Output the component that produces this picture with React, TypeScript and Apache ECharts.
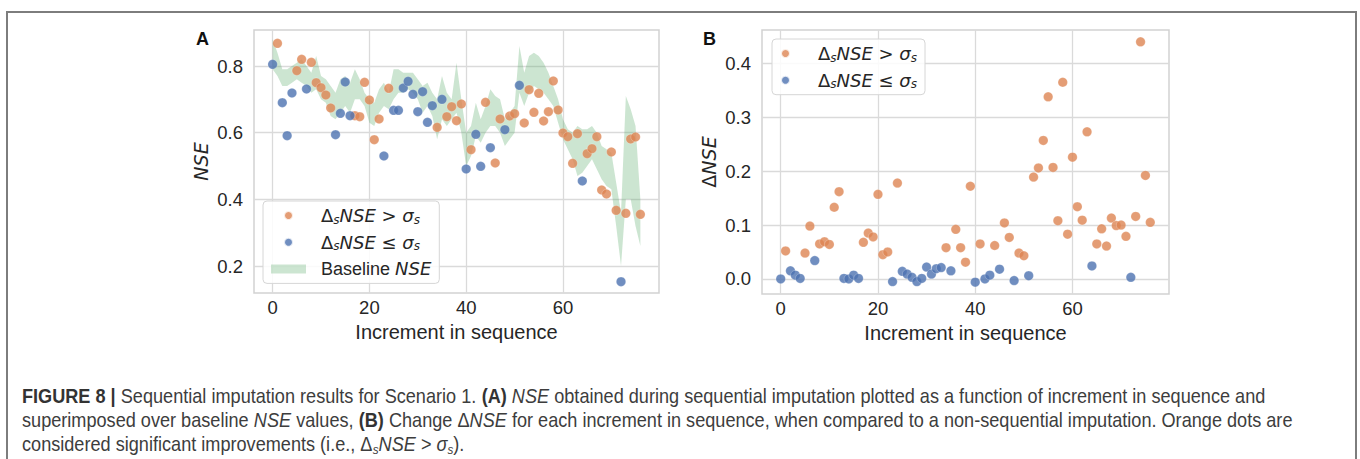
import React, { useEffect, useRef } from "react";
import * as echarts from "echarts";

// ---------- DATA ----------
const increments = [
  0, 1, 2, 3, 4, 5, 6, 7, 8, 9, 10, 11, 12, 13, 14, 15, 16, 17, 18, 19,
  20, 21, 22, 23, 24, 25, 26, 27, 28, 29, 30, 31, 32, 33, 34, 35, 36, 37, 38, 39,
  40, 41, 42, 43, 44, 45, 46, 47, 48, 49, 50, 51, 52, 53, 54, 55, 56, 57, 58, 59,
  60, 61, 62, 63, 64, 65, 66, 67, 68, 69, 70, 71, 72, 73, 74, 75, 76,
];

// increments whose improvement is NOT significant (blue dots)
const notSignificant = [
  0, 2, 3, 4, 7, 13, 14, 15, 16, 23, 25, 26, 27, 28, 29, 30, 31, 32, 33, 35,
  40, 42, 43, 45, 48, 51, 64, 72,
];

// Panel A: NSE obtained during sequential imputation
const nseSequential = [
  0.805, 0.868, 0.690, 0.591, 0.719, 0.786, 0.820, 0.731, 0.811, 0.750,
  0.735, 0.713, 0.674, 0.594, 0.658, 0.752, 0.651, 0.651, 0.648, 0.751,
  0.698, 0.579, 0.641, 0.530, 0.733, 0.667, 0.667, 0.734, 0.754, 0.715,
  0.663, 0.723, 0.631, 0.681, 0.616, 0.700, 0.648, 0.678, 0.636, 0.686,
  0.491, 0.549, 0.595, 0.499, 0.691, 0.555, 0.509, 0.641, 0.609, 0.650,
  0.657, 0.742, 0.629, 0.729, 0.661, 0.718, 0.635, 0.663, 0.755, 0.668,
  0.599, 0.588, 0.508, 0.597, 0.455, 0.537, 0.552, 0.588, 0.428, 0.416,
  0.542, 0.367, 0.153, 0.358, 0.581, 0.587, 0.355,
];

// Panel A: baseline NSE band (lower / upper)
const baselineLower = [
  0.79, 0.77, 0.74, 0.74, 0.75, 0.76, 0.75, 0.74, 0.72, 0.73,
  0.70, 0.69, 0.65, 0.64, 0.66, 0.68, 0.66, 0.70, 0.70, 0.68,
  0.63, 0.62, 0.66, 0.68, 0.67, 0.70, 0.72, 0.72, 0.73, 0.72,
  0.70, 0.66, 0.68, 0.65, 0.58, 0.64, 0.62, 0.64, 0.66, 0.60,
  0.50, 0.53, 0.59, 0.57, 0.60, 0.62, 0.62, 0.60, 0.56, 0.58,
  0.60, 0.72, 0.68, 0.72, 0.74, 0.73, 0.72, 0.70, 0.68, 0.63,
  0.58, 0.55, 0.52, 0.47, 0.48, 0.50, 0.52, 0.49, 0.46, 0.44,
  0.43, 0.32, 0.20, 0.40, 0.40, 0.32, 0.26,
];
const baselineUpper = [
  0.88, 0.84, 0.79, 0.79, 0.80, 0.81, 0.82, 0.80, 0.78, 0.83,
  0.77, 0.76, 0.74, 0.72, 0.76, 0.77, 0.75, 0.79, 0.76, 0.72,
  0.70, 0.69, 0.73, 0.75, 0.72, 0.79, 0.79, 0.78, 0.78, 0.78,
  0.76, 0.74, 0.75, 0.72, 0.70, 0.77, 0.72, 0.70, 0.81, 0.70,
  0.60, 0.62, 0.69, 0.64, 0.68, 0.73, 0.71, 0.70, 0.64, 0.66,
  0.68, 0.86, 0.78, 0.83, 0.84, 0.83, 0.81, 0.78, 0.74, 0.70,
  0.64, 0.61, 0.60, 0.62, 0.61, 0.61, 0.62, 0.60, 0.56, 0.55,
  0.54, 0.45, 0.36, 0.71, 0.67, 0.62, 0.40,
];

// Panel B: change in NSE vs non-sequential imputation
const deltaNse = [
  0.000, 0.052, 0.015, 0.007, 0.001, 0.048, 0.098, 0.034, 0.065, 0.069,
  0.064, 0.133, 0.162, 0.001, 0.000, 0.007, 0.001, 0.068, 0.085, 0.078,
  0.157, 0.045, 0.050, -0.005, 0.178, 0.014, 0.009, 0.003, -0.005, 0.001,
  0.022, 0.009, 0.019, 0.021, 0.058, 0.015, 0.092, 0.058, 0.031, 0.172,
  -0.006, 0.065, 0.000, 0.007, 0.062, 0.018, 0.104, 0.077, -0.003, 0.048,
  0.043, 0.006, 0.189, 0.206, 0.257, 0.338, 0.207, 0.108, 0.365, 0.083,
  0.226, 0.134, 0.109, 0.273, 0.024, 0.065, 0.093, 0.061, 0.113, 0.099,
  0.100, 0.079, 0.003, 0.116, 0.440, 0.192, 0.105,
];

const xTicks = [0, 20, 40, 60];
const yTicksA = [0.2, 0.4, 0.6, 0.8];
const yTicksB = [0.0, 0.1, 0.2, 0.3, 0.4];

// ---------- STYLE ----------
const ORANGE = "#DD8452";
const BLUE = "#4C72B0";
const GREEN = "rgba(85,168,104,0.3)";
const GRID_COLOR = "#dadada";
const TEXT = "#262626";
const SANS = "Liberation Sans, Arial, sans-serif";
const MATH = "DejaVu Sans, sans-serif";
const CAP = "Liberation Sans, Arial, sans-serif";

const legendNames: Record<string, string> = {
  gt: "{d|Δ}{sub|s}{it|NSE}{d| > }{it|σ}{sub|s}",
  le: "{d|Δ}{sub|s}{it|NSE}{d| ≤ }{it|σ}{sub|s}",
  base: "{n|Baseline }{it|NSE}",
};

const legendRich = {
  d: { fontFamily: MATH, fontSize: 18, color: TEXT, lineHeight: 20 },
  n: { fontFamily: SANS, fontSize: 18, color: TEXT, lineHeight: 20 },
  it: { fontFamily: MATH, fontSize: 18, fontStyle: "italic", color: TEXT, lineHeight: 20 },
  sub: { fontFamily: MATH, fontSize: 12, fontStyle: "italic", color: TEXT, lineHeight: 13, verticalAlign: "bottom" },
};

export default function App() {
  const ref = useRef<HTMLDivElement>(null);

  useEffect(() => {
    if (!ref.current) return;
    const chart = echarts.init(ref.current, null, { renderer: "svg" });

    const isNS = (x: number) => notSignificant.indexOf(x) >= 0;
    const sigA = increments.filter((x) => !isNS(x)).map((x) => [x, nseSequential[x]]);
    const nsA = increments.filter((x) => isNS(x)).map((x) => [x, nseSequential[x]]);
    const sigB = increments.filter((x) => !isNS(x)).map((x) => [x, deltaNse[x]]);
    const nsB = increments.filter((x) => isNS(x)).map((x) => [x, deltaNse[x]]);
    const band = increments.map((x, i) => [x, baselineLower[i], baselineUpper[i]]);

    const xAxisCommon = (gridIndex: number) => ({
      type: "value",
      gridIndex,
      min: -3.85,
      max: 79.85,
      name: "Increment in sequence",
      nameLocation: "middle",
      nameGap: 28,
      nameTextStyle: { fontFamily: SANS, fontSize: 20, color: TEXT },
      axisLine: { show: false },
      axisTick: { show: false, customValues: xTicks },
      axisLabel: {
        customValues: xTicks,
        fontFamily: SANS,
        fontSize: 18.5,
        color: TEXT,
        margin: 5,
      },
      splitLine: { show: true, lineStyle: { color: GRID_COLOR, width: 1.3 } },
    });

    const symbol = { symbolSize: 9.5 };
    const pointStyle = (c: string) => ({ color: c, borderColor: "#fff", borderWidth: 0.3 });

    const option: any = {
      animation: false,
      backgroundColor: "#ffffff",
      grid: [
        { left: 254, top: 30, width: 405, height: 263, show: true, borderColor: "#d2d2d2", borderWidth: 1.5, backgroundColor: "transparent" },
        { left: 762, top: 30, width: 407, height: 264, show: true, borderColor: "#d2d2d2", borderWidth: 1.5, backgroundColor: "transparent" },
      ],
      xAxis: [xAxisCommon(0), xAxisCommon(1)],
      yAxis: [
        {
          type: "value",
          gridIndex: 0,
          min: 0.119,
          max: 0.908,
          name: "NSE",
          nameLocation: "middle",
          nameGap: 44,
          nameTextStyle: { fontFamily: MATH, fontStyle: "italic", fontSize: 19, color: TEXT },
          axisLine: { show: false },
          axisTick: { show: false, customValues: yTicksA },
          axisLabel: {
            customValues: yTicksA,
            formatter: (v: number) => v.toFixed(1),
            fontFamily: SANS,
            fontSize: 18.5,
            color: TEXT,
            margin: 11,
          },
          splitLine: { show: true, lineStyle: { color: GRID_COLOR, width: 1.3 } },
        },
        {
          type: "value",
          gridIndex: 1,
          min: -0.028,
          max: 0.462,
          name: "{d|Δ}{it|NSE}",
          nameLocation: "middle",
          nameGap: 44,
          nameTextStyle: {
            fontSize: 19,
            color: TEXT,
            rich: {
              d: { fontFamily: MATH, fontSize: 19, color: TEXT },
              it: { fontFamily: MATH, fontStyle: "italic", fontSize: 19, color: TEXT },
            },
          },
          axisLine: { show: false },
          axisTick: { show: false, customValues: yTicksB },
          axisLabel: {
            customValues: yTicksB,
            formatter: (v: number) => v.toFixed(1),
            fontFamily: SANS,
            fontSize: 18.5,
            color: TEXT,
            margin: 11,
          },
          splitLine: { show: true, lineStyle: { color: GRID_COLOR, width: 1.3 } },
        },
      ],
      legend: [
        {
          left: 263,
          top: 201,
          orient: "vertical",
          padding: [4.5, 8, 4.5, 8],
          itemWidth: 35,
          itemHeight: 9,
          itemGap: 6.7,
          backgroundColor: "rgba(255,255,255,0.85)",
          borderColor: "#d6d6d6",
          borderWidth: 1,
          borderRadius: 4,
          selectedMode: false,
          data: [
            { name: "gt", icon: "circle" },
            { name: "le", icon: "circle" },
            { name: "base", icon: "rect", itemStyle: { color: GREEN, borderWidth: 0 } },
          ],
          formatter: (n: string) => legendNames[n],
          textStyle: { padding: [0, 0, 0, 10], rich: legendRich, lineHeight: 20 },
        },
        {
          left: 772,
          top: 39,
          orient: "vertical",
          padding: [4.5, 8, 4.5, 8],
          itemWidth: 35,
          itemHeight: 9,
          itemGap: 6.7,
          backgroundColor: "rgba(255,255,255,0.85)",
          borderColor: "#d6d6d6",
          borderWidth: 1,
          borderRadius: 4,
          selectedMode: false,
          data: [
            { name: "gt", icon: "circle" },
            { name: "le", icon: "circle" },
          ],
          formatter: (n: string) => legendNames[n],
          textStyle: { padding: [0, 0, 0, 10], rich: legendRich, lineHeight: 20 },
        },
      ],
      series: [
        {
          name: "base",
          type: "custom",
          xAxisIndex: 0,
          yAxisIndex: 0,
          silent: true,
          z: 1,
          data: band,
          encode: { x: 0, y: [1, 2] },
          itemStyle: { color: GREEN },
          renderItem: (params: any, api: any) => {
            if (params.dataIndex !== 0) return null;
            const pts: number[][] = [];
            for (let i = 0; i < band.length; i++) pts.push(api.coord([band[i][0], band[i][2]]));
            for (let i = band.length - 1; i >= 0; i--) pts.push(api.coord([band[i][0], band[i][1]]));
            return {
              type: "polygon",
              shape: { points: pts },
              style: { fill: GREEN, stroke: "none" },
            };
          },
        },
        { name: "gt", type: "scatter", xAxisIndex: 0, yAxisIndex: 0, data: sigA, ...symbol, itemStyle: pointStyle(ORANGE), z: 3 },
        { name: "le", type: "scatter", xAxisIndex: 0, yAxisIndex: 0, data: nsA, ...symbol, itemStyle: pointStyle(BLUE), z: 3 },
        { name: "gt", type: "scatter", xAxisIndex: 1, yAxisIndex: 1, data: sigB, ...symbol, itemStyle: pointStyle(ORANGE), z: 3 },
        { name: "le", type: "scatter", xAxisIndex: 1, yAxisIndex: 1, data: nsB, ...symbol, itemStyle: pointStyle(BLUE), z: 3 },
      ],
      graphic: [
        {
          type: "rect",
          silent: true,
          shape: { x: 7, y: 12, width: 1349, height: 520 },
          style: { fill: "none", stroke: "#7d7d7d", lineWidth: 2 },
          z: -10,
        },
        {
          type: "text",
          left: 196,
          top: 30,
          style: { text: "A", fontFamily: SANS, fontWeight: "bold", fontSize: 18, fill: "#111" },
        },
        {
          type: "text",
          left: 703,
          top: 30,
          style: { text: "B", fontFamily: SANS, fontWeight: "bold", fontSize: 18, fill: "#111" },
        },
        {
          type: "text",
          x: 22,
          y: 384,
          scaleX: 0.93,
          style: {
            text:
              "{b|FIGURE 8 |}{n| Sequential imputation results for Scenario 1. }{b|(A)}{n| }{i|NSE}{n| obtained during sequential imputation plotted as a function of increment in sequence and}\n" +
              "{n|superimposed over baseline }{i|NSE}{n| values, }{b|(B)}{n| Change Δ}{i|NSE}{n| for each increment in sequence, when compared to a non-sequential imputation. Orange dots are}\n" +
              "{n|considered significant improvements (i.e., Δ}{s|s}{i|NSE}{n| > }{i|σ}{s|s}{n|).}",
            rich: {
              b: { fontFamily: CAP, fontWeight: "bold", fontSize: 19.5, fill: "#333", lineHeight: 24 },
              n: { fontFamily: CAP, fontSize: 19.5, fill: "#3d3d3d", lineHeight: 24 },
              i: { fontFamily: CAP, fontStyle: "italic", fontSize: 19.5, fill: "#3d3d3d", lineHeight: 24 },
              s: { fontFamily: CAP, fontStyle: "italic", fontSize: 12.5, fill: "#3d3d3d", lineHeight: 14, verticalAlign: "bottom" },
            },
          },
        },
      ],
    };

    chart.setOption(option);
    return () => chart.dispose();
  }, []);

  return (
    <div
      ref={ref}
      style={{ position: "absolute", left: 0, top: 0, width: 1360, height: 459 }}
    />
  );
}
